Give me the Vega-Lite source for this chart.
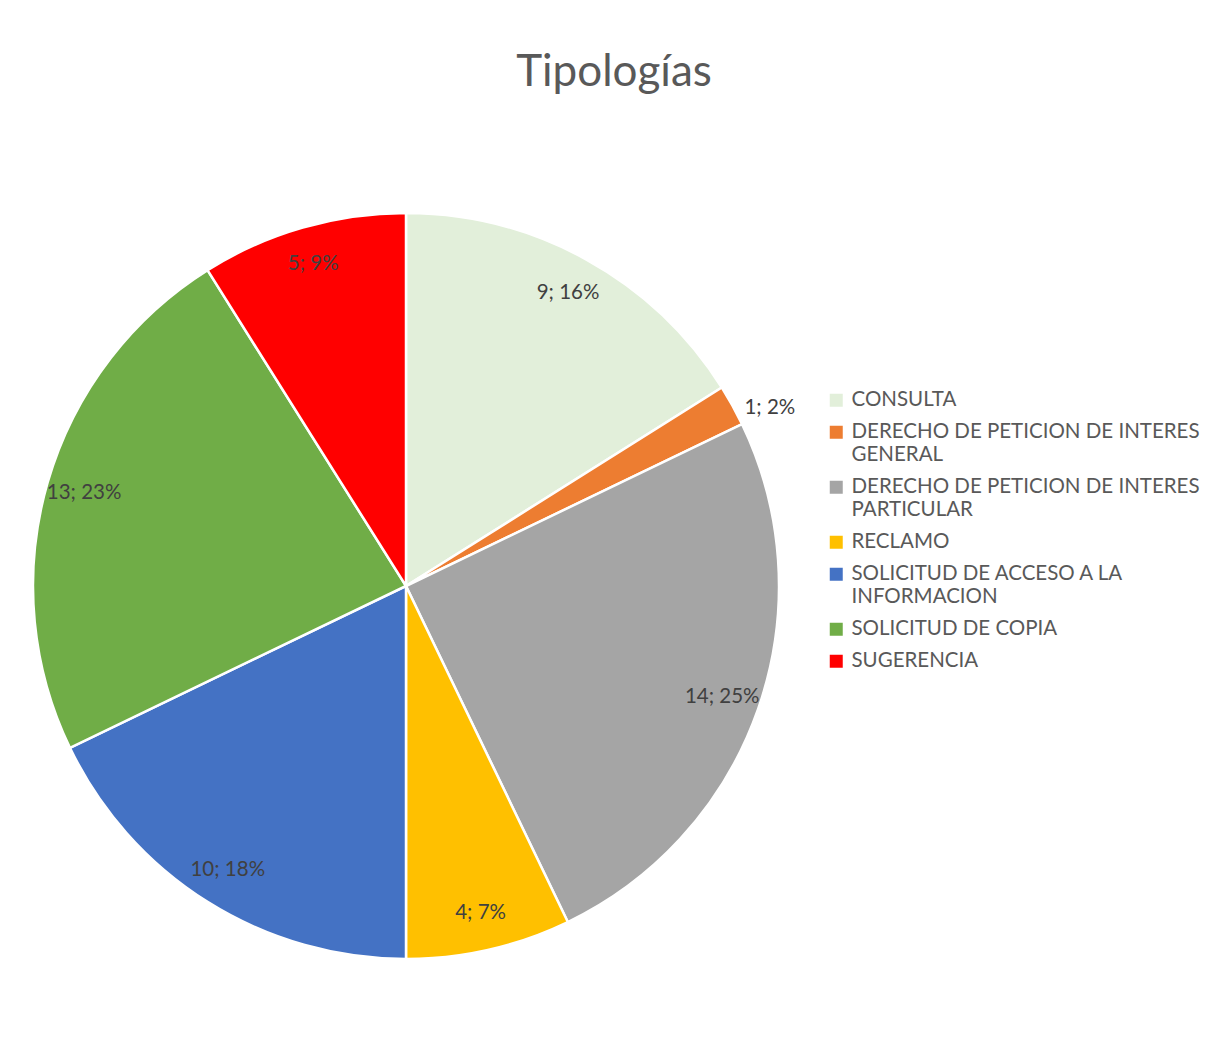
{
  "$schema": "https://vega.github.io/schema/vega-lite/v6.json",
  "autosize": "none",
  "width": 798,
  "height": 932,
  "padding": {"left": 7, "top": 120, "right": 412, "bottom": 3},
  "background": "white",
  "title": {"text": "Tipologías", "fontSize": 44, "font": "Lato", "fontWeight": "normal", "color": "#595959", "anchor": "middle", "dx": 208, "offset": 25},
  "data": {"values": [
    {"category": "CONSULTA", "value": 9, "label": "9; 16%", "order": 1},
    {"category": "DERECHO DE PETICION DE INTERES GENERAL", "value": 1, "label": "1; 2%", "order": 2},
    {"category": "DERECHO DE PETICION DE INTERES PARTICULAR", "value": 14, "label": "14; 25%", "order": 3},
    {"category": "RECLAMO", "value": 4, "label": "4; 7%", "order": 4},
    {"category": "SOLICITUD DE ACCESO A LA INFORMACION", "value": 10, "label": "10; 18%", "order": 5},
    {"category": "SOLICITUD DE COPIA", "value": 13, "label": "13; 23%", "order": 6},
    {"category": "SUGERENCIA", "value": 5, "label": "5; 9%", "order": 7}
  ]},
  "encoding": {
    "theta": {"field": "value", "type": "quantitative", "stack": true},
    "order": {"field": "order", "type": "quantitative"}
  },
  "layer": [
    {
      "mark": {"type": "arc", "outerRadius": 373, "stroke": "white", "strokeWidth": 2.5},
      "encoding": {
        "color": {
          "field": "category", "type": "nominal",
          "scale": {
            "domain": ["CONSULTA", "DERECHO DE PETICION DE INTERES GENERAL", "DERECHO DE PETICION DE INTERES PARTICULAR", "RECLAMO", "SOLICITUD DE ACCESO A LA INFORMACION", "SOLICITUD DE COPIA", "SUGERENCIA"],
            "range": ["#E2EFDA", "#ED7D31", "#A5A5A5", "#FFC000", "#4472C4", "#70AD47", "#FF0000"]
          },
          "legend": {
            "orient": "none", "legendX": 819, "legendY": 270, "title": null,
            "symbolType": "square", "symbolSize": 169, "symbolStrokeWidth": 0,
            "labelFontSize": 20.5, "labelFont": "Lato", "labelColor": "#595959", "labelLimit": 0,
            "rowPadding": 11, "labelOffset": 5, "padding": 0,
            "labelExpr": "datum.label == 'DERECHO DE PETICION DE INTERES GENERAL' ? ['DERECHO DE PETICION DE INTERES', 'GENERAL'] : datum.label == 'DERECHO DE PETICION DE INTERES PARTICULAR' ? ['DERECHO DE PETICION DE INTERES', 'PARTICULAR'] : datum.label == 'SOLICITUD DE ACCESO A LA INFORMACION' ? ['SOLICITUD DE ACCESO A LA', 'INFORMACION'] : datum.label"
          }
        }
      }
    },
    {
      "mark": {"type": "text", "radius": 335, "fontSize": 20.5, "font": "Lato", "color": "#404040"},
      "encoding": {
        "detail": {"field": "category", "type": "nominal"},
        "text": {"condition": {"test": "datum.value > 1", "field": "label"}, "value": ""}
      }
    },
    {
      "mark": {"type": "text", "radius": 405, "thetaOffset": 0.05, "fontSize": 20.5, "font": "Lato", "color": "#404040"},
      "encoding": {
        "detail": {"field": "category", "type": "nominal"},
        "text": {"condition": {"test": "datum.value == 1", "field": "label"}, "value": ""}
      }
    }
  ],
  "config": {"view": {"stroke": null}}
}
